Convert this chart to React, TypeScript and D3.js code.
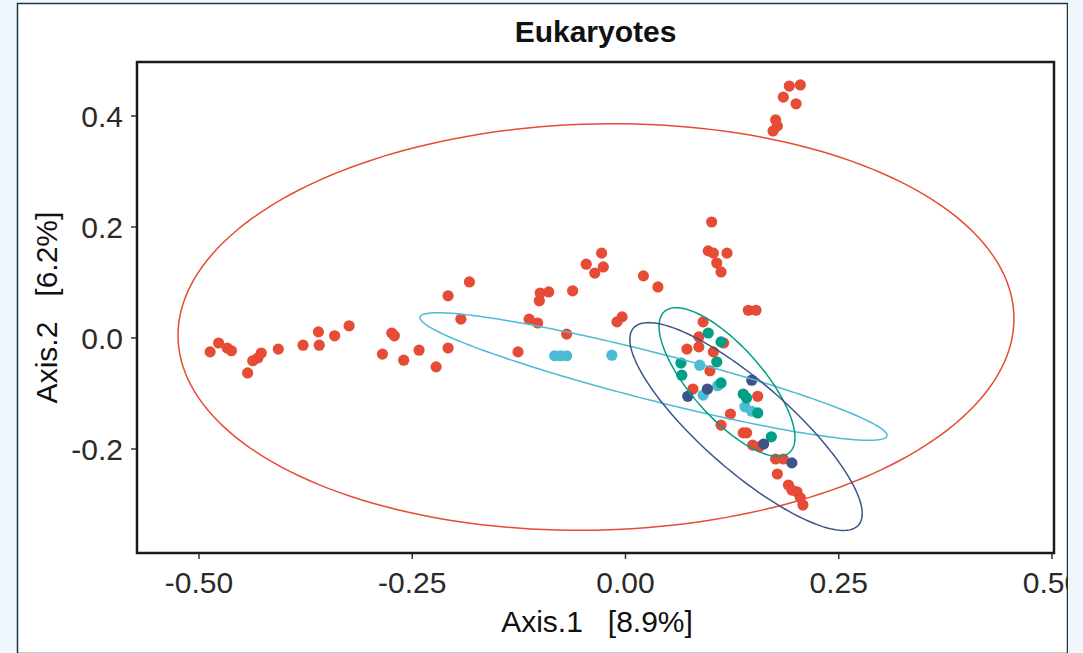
import React from "react";
import * as d3 from "d3";

const title = "Eukaryotes";
const xLabel = "Axis.1   [8.9%]";
const yLabel = "Axis.2   [6.2%]";
const xTicks = [-0.5, -0.25, 0, 0.25, 0.5];
const yTicks = [-0.2, 0.0, 0.2, 0.4];

const groups = ["A", "B", "C", "D"];
const groupColors = ["#E64B35", "#4DBBD5", "#00A087", "#3C5488"];

// [x, y] per group
const redPts: [number, number][] = [
  [-0.487, -0.025], [-0.477, -0.009], [-0.467, -0.018], [-0.462, -0.023], [-0.443, -0.063],
  [-0.437, -0.041], [-0.431, -0.036], [-0.427, -0.027], [-0.407, -0.020], [-0.378, -0.013],
  [-0.360, 0.011], [-0.359, -0.013], [-0.341, 0.004], [-0.324, 0.022], [-0.285, -0.029],
  [-0.274, 0.009], [-0.271, 0.004], [-0.260, -0.040], [-0.242, -0.022], [-0.222, -0.052],
  [-0.208, -0.018], [-0.208, 0.076], [-0.193, 0.034], [-0.183, 0.101], [-0.126, -0.025],
  [-0.113, 0.034], [-0.103, 0.027], [-0.101, 0.067], [-0.100, 0.081], [-0.090, 0.083],
  [-0.069, 0.007], [-0.062, 0.085], [-0.046, 0.133], [-0.028, 0.153], [-0.026, 0.128],
  [-0.036, 0.117], [-0.010, 0.029], [-0.004, 0.038], [0.021, 0.112], [0.038, 0.092],
  [0.101, 0.209], [0.097, 0.157], [0.103, 0.153], [0.119, 0.153], [0.107, 0.135],
  [0.112, 0.119], [0.144, 0.050], [0.153, 0.050], [0.091, 0.029], [0.086, 0.002],
  [0.086, -0.016], [0.072, -0.020], [0.103, -0.025], [0.115, -0.009], [0.099, -0.059],
  [0.079, -0.092], [0.155, -0.105], [0.123, -0.137], [0.112, -0.157], [0.138, -0.171],
  [0.142, -0.171], [0.149, -0.193], [0.157, -0.196], [0.176, -0.218], [0.185, -0.218],
  [0.178, -0.245], [0.191, -0.265], [0.195, -0.274], [0.201, -0.277], [0.205, -0.288],
  [0.208, -0.301], [0.192, 0.454], [0.205, 0.456], [0.185, 0.434], [0.200, 0.422],
  [0.176, 0.393], [0.178, 0.382], [0.173, 0.373],
];
const cyanPts: [number, number][] = [
  [-0.083, -0.032], [-0.076, -0.032], [-0.069, -0.032], [-0.016, -0.031], [0.087, -0.049],
  [0.091, -0.103], [0.108, -0.086], [0.140, -0.124], [0.148, -0.132],
];
const greenPts: [number, number][] = [
  [0.097, 0.009], [0.112, -0.007], [0.065, -0.045], [0.066, -0.067], [0.107, -0.043],
  [0.112, -0.081], [0.138, -0.101], [0.142, -0.108], [0.155, -0.135], [0.171, -0.178],
];
const navyPts: [number, number][] = [
  [0.073, -0.105], [0.096, -0.092], [0.148, -0.076], [0.162, -0.191], [0.195, -0.225],
];
const groupPoints = [redPts, cyanPts, greenPts, navyPts];

// ellipse: center, first half-axis vector, second half-axis vector (data units)
const ellCenters: [number, number][] = [[-0.0346, 0.0198], [0.0328, -0.0694], [0.119, -0.0793], [0.1413, -0.1595]];
const ellAxisU: [number, number][] = [[0.49, 0.015], [0.2737, -0.1072], [0.0733, -0.127], [0.1319, -0.1775]];
const ellAxisV: [number, number][] = [[0.0, 0.366], [-0.00686, -0.0414], [-0.0312, -0.0425], [-0.034, -0.0596]];

const W = 1083;
const H = 653;
const plot = { left: 137, right: 1054, top: 62, bottom: 553 };

const fmt = (spec: string) => (v: number) => d3.format(spec)(v).replace("\u2212", "-");

export default function App() {
  const x = d3.scaleLinear().domain([-0.5, 0.5]).range([199, 1052]);
  const y = d3.scaleLinear().domain([0, 0.2]).range([338, 227]);
  const font = "'Liberation Sans', Arial, Helvetica, sans-serif";

  const ellPaths = ellCenters.map((c, i) => {
    const u = ellAxisU[i];
    const v = ellAxisV[i];
    const pts = d3.range(0, 201).map((k) => {
      const t = (k / 200) * Math.PI * 2;
      return [c[0] + u[0] * Math.cos(t) + v[0] * Math.sin(t), c[1] + u[1] * Math.cos(t) + v[1] * Math.sin(t)] as [number, number];
    });
    return d3.line<[number, number]>().x((d) => x(d[0])).y((d) => y(d[1]))(pts) || "";
  });

  return (
    <svg width={W} height={H} style={{ position: "absolute", left: 0, top: 0 }} fontFamily={font}>
      <rect x={0} y={0} width={W} height={H} fill="#eef7fc" />
      <rect x={17.5} y={3.5} width={1050} height={650} fill="#ffffff" stroke="#1d3442" strokeWidth={1.5} />
      <defs>
        <clipPath id="plotclip">
          <rect x={plot.left} y={plot.top} width={plot.right - plot.left} height={plot.bottom - plot.top} />
        </clipPath>
      </defs>
      <text x={(plot.left + plot.right) / 2} y={42} textAnchor="middle" fontSize={30} fontWeight="bold" fill="#111">
        {title}
      </text>
      <g clipPath="url(#plotclip)">
        {groupPoints.map((pts, gi) =>
          pts.map((p, i) => (
            <circle key={`${gi}-${i}`} cx={x(p[0])} cy={y(p[1])} r={5.6} fill={groupColors[gi]} />
          ))
        )}
        {ellPaths.map((d, i) => (
          <path key={groups[i]} d={d} fill="none" stroke={groupColors[i]} strokeWidth={1.5} />
        ))}
      </g>
      <rect x={plot.left} y={plot.top} width={plot.right - plot.left} height={plot.bottom - plot.top} fill="none" stroke="#1a1a1a" strokeWidth={2.5} />
      {xTicks.map((t) => (
        <g key={`x${t}`}>
          <line x1={x(t)} x2={x(t)} y1={plot.bottom + 1} y2={plot.bottom + 6} stroke="#333" strokeWidth={1.5} />
          <text x={x(t)} y={593} textAnchor="middle" fontSize={30} fill="#2a2a2a">
            {fmt(".2f")(t)}
          </text>
        </g>
      ))}
      {yTicks.map((t) => (
        <g key={`y${t}`}>
          <line x1={plot.left - 6} x2={plot.left - 1} y1={y(t)} y2={y(t)} stroke="#333" strokeWidth={1.5} />
          <text x={123} y={y(t) + 11} textAnchor="end" fontSize={30} fill="#2a2a2a">
            {fmt(".1f")(t)}
          </text>
        </g>
      ))}
      <text x={597} y={632} textAnchor="middle" fontSize={30} fill="#111" style={{ whiteSpace: "pre" }}>
        {xLabel}
      </text>
      <text transform={`translate(57,${(plot.top + plot.bottom) / 2}) rotate(-90)`} textAnchor="middle" fontSize={30} fill="#111" style={{ whiteSpace: "pre" }}>
        {yLabel}
      </text>
      <rect x={1068} y={0} width={15} height={H} fill="#eef7fc" />
    </svg>
  );
}
